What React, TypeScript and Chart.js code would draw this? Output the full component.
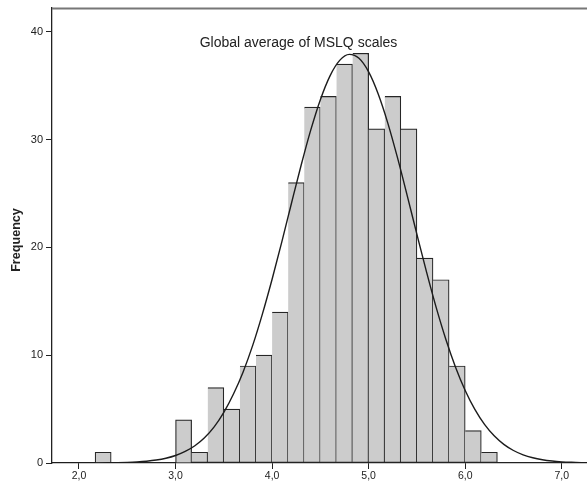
import React, { useEffect, useRef } from "react";
import { Chart, registerables } from "chart.js";

Chart.register(...registerables);

// Histogram bins (width 1/6), centers and frequencies
const BIN_CENTERS = [2.25, 3.0833, 3.25, 3.4167, 3.5833, 3.75, 3.9167, 4.0833, 4.25, 4.4167, 4.5833, 4.75, 4.9167, 5.0833, 5.25, 5.4167, 5.5833, 5.75, 5.9167, 6.0833, 6.25];
const COUNTS = [1, 4, 1, 7, 5, 9, 10, 14, 26, 33, 34, 37, 38, 31, 34, 31, 19, 17, 9, 3, 1];

// Normal curve
const CURVE_X = [1.7, 1.8, 1.9, 2.0, 2.1, 2.2, 2.3, 2.4, 2.5, 2.6, 2.7, 2.8, 2.9, 3.0, 3.1, 3.2, 3.3, 3.4, 3.5, 3.6, 3.7, 3.8, 3.9, 4.0, 4.1, 4.2, 4.3, 4.4, 4.5, 4.6, 4.7, 4.8, 4.9, 5.0, 5.1, 5.2, 5.3, 5.4, 5.5, 5.6, 5.7, 5.8, 5.9, 6.0, 6.1, 6.2, 6.3, 6.4, 6.5, 6.6, 6.7, 6.8, 6.9, 7.0, 7.1, 7.2, 7.3];
const CURVE_Y = [0.0003, 0.0006, 0.0013, 0.0025, 0.0049, 0.0093, 0.017, 0.031, 0.056, 0.098, 0.165, 0.273, 0.441, 0.694, 1.07, 1.6, 2.34, 3.35, 4.7, 6.4, 8.45, 10.93, 13.83, 17.04, 20.49, 24.07, 27.59, 30.87, 33.7, 35.91, 37.34, 37.9, 37.53, 36.27, 34.2, 31.48, 28.27, 24.78, 21.2, 17.7, 14.41, 11.46, 8.89, 6.73, 4.97, 3.58, 2.52, 1.73, 1.16, 0.758, 0.484, 0.301, 0.183, 0.108, 0.063, 0.035, 0.019];

const X_TICKS = [2, 3, 4, 5, 6, 7];
const Y_TICKS = [0, 10, 20, 30, 40];
const TITLE = "Global average of MSLQ scales";
const Y_TITLE = "Frequency";

const FONT = "'Liberation Sans', Arial, sans-serif";

export default function App() {
  const ref = useRef<HTMLCanvasElement | null>(null);

  useEffect(() => {
    if (!ref.current) return;
    document.body.style.margin = "0";

    const textPlugin = {
      id: "spssDecor",
      afterDraw(chart: any) {
        const { ctx, chartArea } = chart;
        ctx.save();
        // top frame line
        ctx.strokeStyle = "#777777";
        ctx.lineWidth = 2;
        ctx.beginPath();
        ctx.moveTo(chartArea.left, chartArea.top + 0.5);
        ctx.lineTo(chartArea.right, chartArea.top + 0.5);
        ctx.stroke();
        // title inside plot
        ctx.fillStyle = "#222222";
        ctx.font = `14px ${FONT}`;
        ctx.textAlign = "center";
        ctx.textBaseline = "alphabetic";
        ctx.fillText(TITLE, chartArea.left + 246.5, chartArea.top + 38.5);
        // y axis title
        ctx.translate(16.5, 240);
        ctx.rotate(-Math.PI / 2);
        ctx.font = `bold 12.6px ${FONT}`;
        ctx.textBaseline = "middle";
        ctx.fillText(Y_TITLE, 0, 0);
        ctx.restore();
      },
    };

    const chart = new Chart(ref.current, {
      type: "bar",
      data: {
        datasets: [
          {
            type: "line",
            data: CURVE_X.map((x, i) => ({ x, y: CURVE_Y[i] })),
            borderColor: "#1c1c1c",
            borderWidth: 1.4,
            pointRadius: 0,
            tension: 0.4,
            cubicInterpolationMode: "monotone",
            fill: false,
            order: 0,
          } as any,
          {
            type: "bar",
            data: BIN_CENTERS.map((x, i) => ({ x, y: COUNTS[i] })),
            backgroundColor: "#cccccc",
            borderColor: "#262626",
            borderWidth: 1.2,
            borderSkipped: (c: any) => {
              const i = c.dataIndex;
              if (i > 0 && Math.abs(BIN_CENTERS[i] - BIN_CENTERS[i - 1] - 1 / 6) < 0.01) return "left";
              return "start";
            },
            barPercentage: 1,
            categoryPercentage: 1,
            order: 1,
          } as any,
        ],
      },
      options: {
        animation: false,
        responsive: false,
        devicePixelRatio: 1,
        layout: { padding: { top: 8, left: 0, right: 0, bottom: 0 } },
        plugins: {
          legend: { display: false },
          tooltip: { enabled: false },
          title: { display: false },
        },
        scales: {
          x: {
            type: "linear",
            offset: false,
            min: 1.7204,
            max: 7.2615,
            afterBuildTicks: (s: any) => {
              s.ticks = X_TICKS.map((v) => ({ value: v }));
            },
            afterFit: (s: any) => {
              s.height = 21;
              s.paddingLeft = 0;
              s.paddingRight = 0;
            },
            ticks: {
              color: "#222222",
              font: { family: FONT, size: 10.5 },
              padding: 1,
              maxRotation: 0,
              autoSkip: false,
              callback: (v: any) => Number(v).toFixed(1).replace(".", ","),
            },
            grid: { display: true, offset: false, drawOnChartArea: false, drawTicks: true, tickLength: 6, color: "#222222", lineWidth: 1 },
            border: { display: true, color: "#222222", width: 1.2 },
          },
          y: {
            type: "linear",
            min: 0,
            max: 42.2,
            afterBuildTicks: (s: any) => {
              s.ticks = Y_TICKS.map((v) => ({ value: v }));
            },
            afterFit: (s: any) => {
              s.width = 52;
              s.paddingTop = 0;
              s.paddingBottom = 0;
            },
            ticks: {
              color: "#222222",
              font: { family: FONT, size: 11 },
              padding: 3,
              autoSkip: false,
              callback: (v: any) => String(v),
            },
            grid: { display: true, drawOnChartArea: false, drawTicks: true, tickLength: 6, color: "#222222", lineWidth: 1 },
            border: { display: true, color: "#222222", width: 1.3 },
          },
        },
      } as any,
      plugins: [textPlugin],
    });

    return () => chart.destroy();
  }, []);

  return (
    <div style={{ position: "absolute", left: 0, top: 0, width: 587, height: 484, background: "#ffffff" }}>
      <canvas ref={ref} width={587} height={484} style={{ width: 587, height: 484, display: "block" }} />
    </div>
  );
}
